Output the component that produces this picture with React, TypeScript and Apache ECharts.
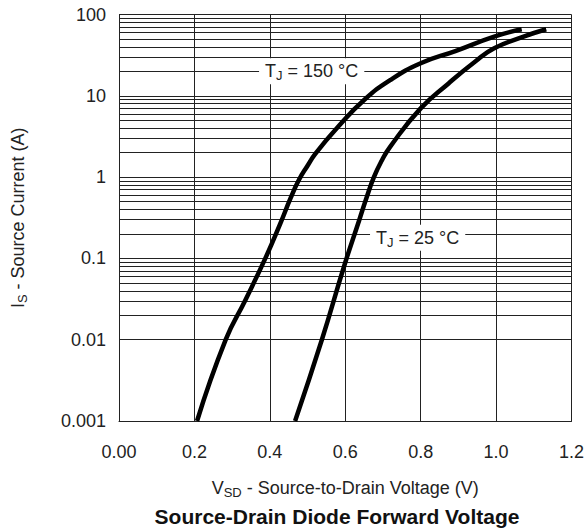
import React, { useEffect, useRef } from "react";
import * as echarts from "echarts";

const xTickLabels = ["0.00", "0.2", "0.4", "0.6", "0.8", "1.0", "1.2"];
const yTickLabels = ["0.001", "0.01", "0.1", "1", "10", "100"];
const yDecades = [0.001, 0.01, 0.1, 1, 10];
const minorMultipliers = [2, 3, 4, 5, 6, 7, 8, 9];

const vsd150 = [0.207, 0.283, 0.335, 0.388, 0.428, 0.455, 0.477, 0.5, 0.521, 0.581, 0.65, 0.719, 0.8, 0.892, 0.995, 1.068];
const is150 = [0.001, 0.01, 0.0306, 0.1, 0.27, 0.55, 0.92, 1.38, 1.95, 4.16, 8.87, 15.6, 25.1, 35.5, 53.4, 65.8];
const vsd25 = [0.467, 0.538, 0.598, 0.637, 0.656, 0.676, 0.697, 0.719, 0.8, 0.874, 0.944, 0.995, 1.073, 1.133];
const is25 = [0.001, 0.01, 0.083, 0.295, 0.55, 1.0, 1.6, 2.36, 7.0, 14.2, 26.2, 38.4, 53.4, 65.8];

const label150 = { v: 0.511, i: 20, t: "150 °C" };
const label25 = { v: 0.792, i: 0.18, t: "25 °C" };

const FONT = "'Liberation Sans', Arial, Helvetica, sans-serif";

export default function App() {
  const ref = useRef<HTMLDivElement>(null);
  useEffect(() => {
    document.body.style.margin = "0";
    if (!ref.current) return;
    const chart = echarts.init(ref.current, undefined, { renderer: "svg" });
    const minorLines: any[] = [];
    yDecades.forEach((d) =>
      minorMultipliers.forEach((m) => minorLines.push({ yAxis: Number((d * m).toPrecision(2)) }))
    );
    const rich = {
      a: { fontSize: 18, fontFamily: FONT, color: "#222", lineHeight: 22, verticalAlign: "middle" },
      sub: { fontSize: 13, fontFamily: FONT, color: "#222", lineHeight: 22, verticalAlign: "bottom", padding: [8, 0, 0, 0] },
    };
    const mkLabel = (l: { v: number; i: number; t: string }) => ({
      symbol: "rect",
      symbolSize: 1,
      silent: true,
      itemStyle: { color: "rgba(0,0,0,0)" },
      label: {
        show: true,
        position: "inside",
        backgroundColor: "#fff",
        padding: [2, 6, 2, 6],
        formatter: "{a|T}{sub|J}{a| = " + l.t + "}",
        rich,
      },
      data: [{ coord: [l.v, l.i] }],
    });
    const curve = (vs: number[], is: number[], name: string, lbl: any) => ({
      type: "line",
      name,
      z: 3,
      data: vs.map((v, i) => [v, is[i]]),
      showSymbol: false,
      smooth: 0.5,
      lineStyle: { color: "#000", width: 4.5, cap: "butt" },
      markPoint: mkLabel(lbl),
    });
    const option: any = {
      animation: false,
      backgroundColor: "#fff",
      textStyle: { fontFamily: FONT },
      title: {
        text: "Source-Drain Diode Forward Voltage",
        left: 337,
        textAlign: "center",
        top: 504,
        padding: 0,
        textStyle: { fontSize: 21, fontWeight: "bold", color: "#111", fontFamily: FONT, lineHeight: 24 },
      },
      grid: { left: 116, right: 8, top: 14.5, bottom: 108, containLabel: false },
      xAxis: {
        type: "value",
        min: 0,
        max: 1.2,
        interval: 0.2,
        name: "{a|V}{sub|SD}{a| - Source-to-Drain Voltage (V)}",
        nameLocation: "middle",
        nameGap: 56,
        nameTextStyle: { rich },
        axisLine: { show: true, lineStyle: { color: "#222", width: 1 } },
        axisTick: { show: false },
        axisLabel: {
          margin: 22,
          fontSize: 18,
          color: "#222",
          fontFamily: FONT,
          formatter: (v: number) => xTickLabels[Math.round(v / 0.2)] ?? "",
        },
        splitLine: { show: true, lineStyle: { color: "#222", width: 1 } },
      },
      yAxis: {
        type: "log",
        logBase: 10,
        min: 0.001,
        max: 100,
        name: "{a|I}{sub|S}{a| - Source Current (A)}",
        nameLocation: "middle",
        nameRotate: 90,
        nameGap: 90,
        nameTextStyle: { rich },
        axisLine: { show: true, lineStyle: { color: "#222", width: 1 } },
        axisTick: { show: false },
        axisLabel: {
          margin: 13,
          fontSize: 18,
          color: "#222",
          fontFamily: FONT,
          formatter: (v: number) => {
            const idx = Math.round(Math.log10(v)) + 3;
            return yTickLabels[idx] ?? "";
          },
        },
        splitLine: { show: true, lineStyle: { color: "#222", width: 1 } },
      },
      series: [
        {
          type: "line",
          data: [],
          silent: true,
          z: 1,
          markLine: {
            silent: true,
            z: 1,
            symbol: ["none", "none"],
            label: { show: false },
            lineStyle: { color: "#222", width: 1, type: "solid" },
            data: minorLines,
          },
        },
        curve(vsd150, is150, "150", label150),
        curve(vsd25, is25, "25", label25),
      ],
    };
    chart.setOption(option);
    return () => chart.dispose();
  }, []);
  return <div ref={ref} style={{ width: 587, height: 529 }} />;
}
